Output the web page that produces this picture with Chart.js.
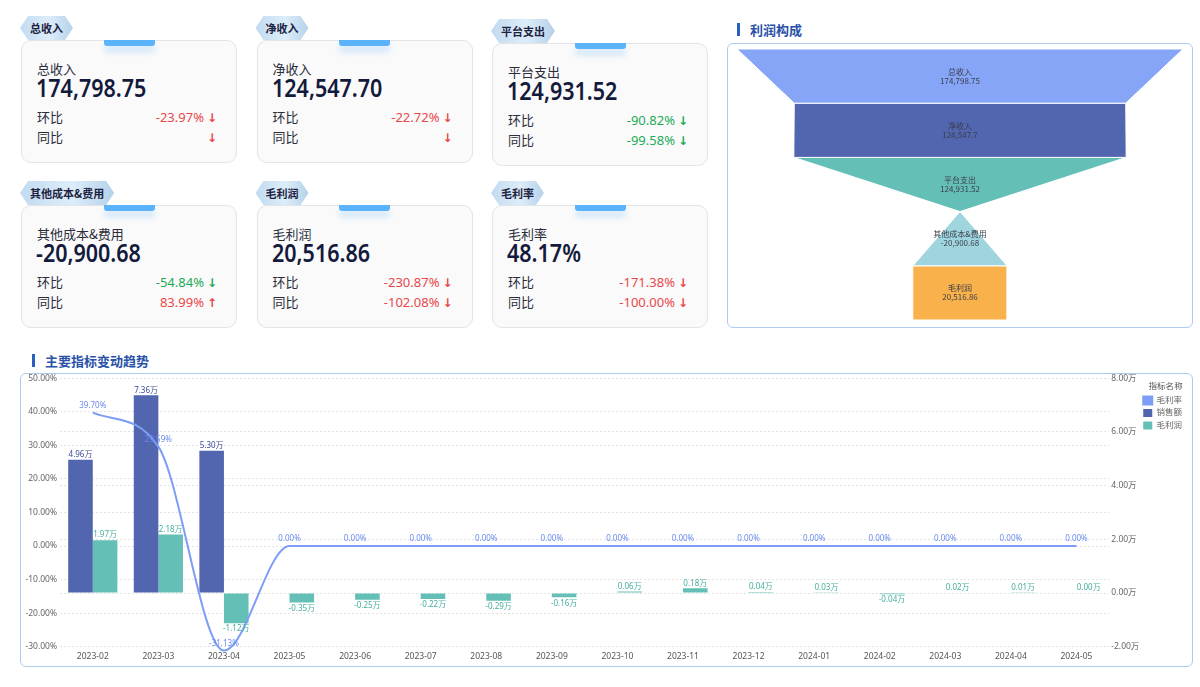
<!DOCTYPE html>
<html lang="zh-CN">
<head>
<meta charset="utf-8">
<title>利润分析看板</title>
<script src="https://cdn.jsdelivr.net/npm/chart.js@4.4.0/dist/chart.umd.min.js"></script>
<style>
  html, body { margin: 0; padding: 0; background: #fff; }
  body {
    width: 1200px; height: 687px; position: relative; overflow: hidden;
    font-family: "Noto Sans", "Noto Sans CJK SC", sans-serif; color: #222;
  }
  .card {
    position: absolute; width: 216px; height: 123px; box-sizing: border-box;
    background: #fafafa; border: 1.5px solid #e2e4e8; border-radius: 10px;
  }
  .card .tab {
    position: absolute; left: 50%; top: -1px; width: 51px; height: 6px; margin-left: -25.5px;
    background: #5ab3fb; border-radius: 0 0 3px 3px;
    box-shadow: 0 6px 6px rgba(90, 175, 250, 0.28);
  }
  .card .badge {
    position: absolute; left: -2px; top: -25px; height: 24px; line-height: 24px;
    padding: 0 10px; font-size: 11px; font-weight: 700; color: #1d2140;
    font-family: "Noto Sans CJK SC", sans-serif;
    background: linear-gradient(90deg, #c2dbf1, #dcedf9 55%, #b6d1ea);
    clip-path: polygon(8px 0, calc(100% - 8px) 0, 100% 50%, calc(100% - 8px) 100%, 8px 100%, 0 50%);
  }
  .card .name {
    position: absolute; left: 15px; top: 19px; font-size: 13px; line-height: 18px;
    font-family: "Noto Sans CJK SC", sans-serif; color: #2a2d3a;
  }
  .card .num {
    position: absolute; left: 14px; top: 31px; font-size: 25px; line-height: 30px;
    font-weight: 600; color: #141a3c; white-space: nowrap;
    transform: scaleX(0.86); transform-origin: 0 50%;
  }
  .card .row {
    position: absolute; left: 15px; right: 19px; height: 18px; line-height: 18px;
    font-size: 13px; display: flex; justify-content: space-between;
  }
  .card .row .k { font-family: "Noto Sans CJK SC", sans-serif; color: #2a2d3a; }
  .card .row .v { font-size: 13px; }
  .card .row .a { font-family: "DejaVu Sans", sans-serif; font-weight: 700; font-size: 12px; margin-left: 3px; }
  .red { color: #e8484a; }
  .green { color: #1daa58; }
  .title {
    position: absolute; font-size: 13px; font-weight: 700; color: #2a52a8;
    font-family: "Noto Sans CJK SC", sans-serif; line-height: 16px;
  }
  .title::before {
    content: ""; position: absolute; left: -13px; top: 1px; width: 3px; height: 13px; background: #2a5fbf;
  }
  .box {
    position: absolute; box-sizing: border-box; border: 1px solid #aecbee; border-radius: 6px; background: #fff;
  }
  canvas { position: absolute; }
</style>
</head>
<body>
<div id="cards"></div>

<div class="title" style="left:750px; top:22px;">利润构成</div>
<div class="box" style="left:727px; top:43px; width:466px; height:285px;">
  <canvas id="funnel" style="left:0; top:0;" width="464" height="283"></canvas>
</div>

<div class="title" style="left:45px; top:353px;">主要指标变动趋势</div>
<div class="box" style="left:20px; top:373px; width:1173px; height:294px;">
  <canvas id="trend" style="left:0; top:-4px;" width="1171" height="300"></canvas>
</div>

<script>
// KPI cards
const kpiNames = ["总收入", "净收入", "平台支出", "其他成本&费用", "毛利润", "毛利率"];
const kpiValues = ["174,798.75", "124,547.70", "124,931.52", "-20,900.68", "20,516.86", "48.17%"];
const kpiMom = ["-23.97%", "-22.72%", "-90.82%", "-54.84%", "-230.87%", "-171.38%"];
const kpiMomColor = ["red", "red", "green", "green", "red", "red"];
const kpiMomArrow = ["↓", "↓", "↓", "↓", "↓", "↓"];
const kpiYoy = ["", "", "-99.58%", "83.99%", "-102.08%", "-100.00%"];
const kpiYoyColor = ["red", "red", "green", "red", "red", "red"];
const kpiYoyArrow = ["↓", "↓", "↓", "↑", "↓", "↓"];

// 利润构成
const funnelNames = ["总收入", "净收入", "平台支出", "其他成本&费用", "毛利润"];
const funnelValues = [174798.75, 124547.7, 124931.52, -20900.68, 20516.86];
const funnelColors = ["#86a5f6", "#5266b0", "#64bfb6", "#9fd5df", "#f9b14b"];

// 主要指标变动趋势
const months = ["2023-02", "2023-03", "2023-04", "2023-05", "2023-06", "2023-07", "2023-08", "2023-09",
  "2023-10", "2023-11", "2023-12", "2024-01", "2024-02", "2024-03", "2024-04", "2024-05"];
const salesWan = [4.96, 7.36, 5.30, null, null, null, null, null, null, null, null, null, null, null, null, null];
const profitWan = [1.97, 2.18, -1.12, -0.35, -0.25, -0.22, -0.29, -0.16, 0.06, 0.18, 0.04, 0.03, -0.04, 0.02, 0.01, 0.00];
const marginPct = [39.70, 29.59, -31.13, 0, 0, 0, 0, 0, 0, 0, 0, 0, 0, 0, 0, 0];

// build cards
const cardsEl = document.getElementById("cards");
kpiNames.forEach((name, i) => {
  const col = i % 3, row = Math.floor(i / 3);
  const card = document.createElement("div");
  card.className = "card";
  card.style.left = (21 + col * 235.5) + "px";
  card.style.top = (row === 0 ? 40 : 205) + (i === 2 ? 3 : 0) + "px";
  card.innerHTML =
    '<div class="badge">' + name + '</div>' +
    '<div class="tab"></div>' +
    '<div class="name">' + name + '</div>' +
    '<div class="num">' + kpiValues[i] + '</div>' +
    '<div class="row" style="top:67px"><span class="k">环比</span><span class="' + kpiMomColor[i] + '">' +
      '<span class="v">' + kpiMom[i] + '</span><span class="a">' + kpiMomArrow[i] + '</span></span></div>' +
    '<div class="row" style="top:87px"><span class="k">同比</span><span class="' + kpiYoyColor[i] + '">' +
      '<span class="v">' + kpiYoy[i] + '</span><span class="a">' + kpiYoyArrow[i] + '</span></span></div>';
  cardsEl.appendChild(card);
});

// funnel: each layer is a closed polygon, width from value
const fMin = Math.min(...funnelValues);
const fMax = Math.max(...funnelValues);
const half = v => (v - fMin) / 2;
const funnelSets = funnelValues.map((v, i) => {
  const top = half(v);
  const bot = half(i < funnelValues.length - 1 ? funnelValues[i + 1] : v);
  return {
    label: funnelNames[i],
    data: [{ x: -top, y: i }, { x: top, y: i }, { x: bot, y: i + 1 }, { x: -bot, y: i + 1 }, { x: -top, y: i }],
    showLine: true,
    fill: "shape",
    backgroundColor: funnelColors[i],
    borderColor: "#ffffff",
    borderWidth: 1,
    pointRadius: 0,
    tension: 0
  };
});

const funnelLabels = {
  id: "funnelLabels",
  afterDatasetsDraw(chart) {
    const { ctx, scales } = chart;
    ctx.save();
    ctx.fillStyle = "#3a3d4a";
    ctx.textAlign = "center";
    ctx.textBaseline = "middle";
    ctx.font = '8px "Noto Sans CJK SC", sans-serif';
    funnelValues.forEach((v, i) => {
      const x = scales.x.getPixelForValue(0);
      const y = scales.y.getPixelForValue(i + 0.5);
      ctx.fillText(funnelNames[i], x, y - 4.5);
      ctx.fillText(v.toLocaleString("en-US", { maximumFractionDigits: 2 }), x, y + 4.5);
    });
    ctx.restore();
  }
};

new Chart(document.getElementById("funnel"), {
  type: "scatter",
  data: { datasets: funnelSets },
  options: {
    responsive: false,
    animation: false,
    layout: { padding: { left: 9, right: 9, top: 5, bottom: 7 } },
    plugins: { legend: { display: false }, tooltip: { enabled: false } },
    scales: {
      x: { display: false, min: -(fMax - fMin) / 2, max: (fMax - fMin) / 2 },
      y: { display: false, min: 0, max: funnelValues.length, reverse: true }
    }
  },
  plugins: [funnelLabels]
});

// value labels for the trend chart
const valueLabels = {
  id: "valueLabels",
  afterDatasetsDraw(chart) {
    const ctx = chart.ctx;
    ctx.save();
    ctx.textAlign = "center";
    ctx.font = '8px "Noto Sans", "Noto Sans CJK SC", sans-serif';
    chart.data.datasets.forEach((ds, i) => {
      const meta = chart.getDatasetMeta(i);
      meta.data.forEach((el, j) => {
        const v = ds.data[j];
        if (v === null || v === undefined) return;
        if (ds.type === "line") {
          ctx.fillStyle = "#6a8bee";
          ctx.textBaseline = "bottom";
          ctx.fillText(v.toFixed(2) + "%", el.x, el.y - 3);
        } else {
          ctx.fillStyle = i === 1 ? "#3d4c98" : "#47ad9f";
          const txt = v.toFixed(2) + "万";
          if (v >= 0) {
            ctx.textBaseline = "bottom";
            ctx.fillText(txt, el.x, el.y - 1);
          } else {
            ctx.textBaseline = "top";
            ctx.fillText(txt, el.x, el.y + 2);
          }
        }
      });
    });
    ctx.restore();
  }
};

const tickFont = { size: 8.5, family: '"Noto Sans", "Noto Sans CJK SC", sans-serif' };

new Chart(document.getElementById("trend"), {
  type: "bar",
  data: {
    labels: months,
    datasets: [
      {
        type: "line", label: "毛利率", data: marginPct, yAxisID: "yPct",
        borderColor: "#7d9df6", backgroundColor: "#7d9df6", borderWidth: 2,
        pointRadius: 0, tension: 0.4, cubicInterpolationMode: "monotone", order: 0, clip: false
      },
      {
        type: "bar", label: "销售额", data: salesWan, yAxisID: "yWan",
        backgroundColor: "#5266b0", categoryPercentage: 0.75, barPercentage: 1, order: 1
      },
      {
        type: "bar", label: "毛利润", data: profitWan, yAxisID: "yWan",
        backgroundColor: "#64bfb6", categoryPercentage: 0.75, barPercentage: 1, order: 1
      }
    ]
  },
  options: {
    responsive: false,
    animation: false,
    layout: { padding: { top: 0, right: 0, bottom: 3, left: 0 } },
    plugins: {
      tooltip: { enabled: false },
      legend: {
        position: "right",
        align: "start",
        title: { display: true, text: "指标名称", color: "#555", font: tickFont, padding: { top: 12, bottom: 0 } },
        labels: { boxWidth: 9, boxHeight: 8, padding: 4, color: "#666", font: tickFont }
      }
    },
    scales: {
      x: {
        grid: { display: false, drawTicks: false },
        border: { display: false },
        ticks: { color: "#555", font: tickFont, padding: 5 }
      },
      yPct: {
        position: "left", min: -30, max: 50,
        ticks: { stepSize: 10, color: "#666", font: tickFont, padding: 3, callback: v => v.toFixed(2) + "%" },
        grid: { color: "#e3e3e3", drawTicks: false },
        border: { display: false, dash: [2, 2] },
        afterFit: s => { s.width = 39; }
      },
      yWan: {
        position: "right", min: -2, max: 8,
        ticks: { stepSize: 2, color: "#666", font: tickFont, padding: 2, callback: v => v.toFixed(2) + "万" },
        grid: { color: "#e3e3e3", drawTicks: false },
        border: { display: false, dash: [2, 2] },
        afterFit: s => { s.width = 30; }
      }
    }
  },
  plugins: [valueLabels]
});
</script>
</body>
</html>
